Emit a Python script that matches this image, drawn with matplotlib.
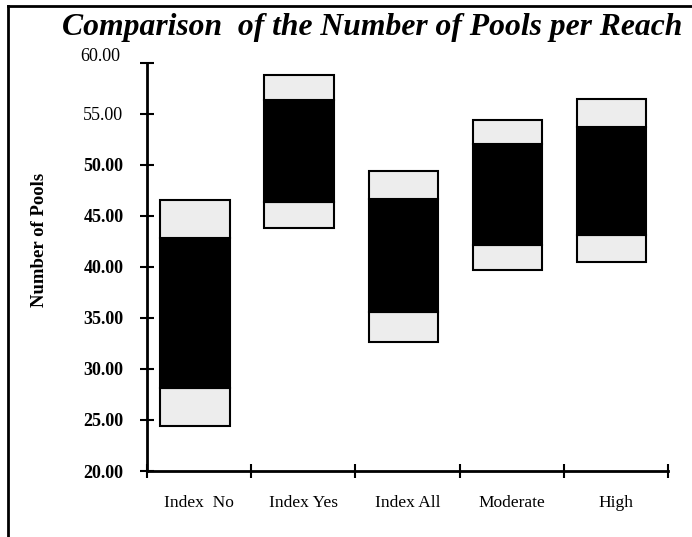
import matplotlib
matplotlib.use("Agg")
import matplotlib.pyplot as plt
from matplotlib.lines import Line2D
import matplotlib.transforms as mtrans

plt.rcParams["font.family"] = "Liberation Serif"

# groups and the four boundaries of each floating bar
groups = ["Index  No", "Index Yes", "Index All", "Moderate", "High"]
low = [24.4, 43.8, 32.6, 39.7, 40.5]       # bottom of lower grey block
q1 = [28.1, 46.4, 35.6, 42.2, 43.1]        # bottom of black block
q3 = [42.8, 56.4, 46.7, 52.1, 53.7]        # top of black block
high = [46.6, 58.8, 49.4, 54.4, 56.5]      # top of upper grey block
yticks = [20, 25, 30, 35, 40, 45, 50, 55, 60]

fig = plt.figure(figsize=(6.92, 5.37), dpi=100)
ax = fig.add_axes([147/692, 1-471/537, (668-147)/692, (471-63)/537])

xs = [i - 0.04 for i in range(len(groups))]
w = 0.665
grey = "#ededed"
for i in range(len(groups)):
    ax.bar(xs[i], q1[i]-low[i], bottom=low[i], width=w, color=grey,
           edgecolor="black", linewidth=1.5, zorder=2)
    ax.bar(xs[i], q3[i]-q1[i], bottom=q1[i], width=w, color="black",
           edgecolor="black", linewidth=1.5, zorder=2)
    ax.bar(xs[i], high[i]-q3[i], bottom=q3[i], width=w, color=grey,
           edgecolor="black", linewidth=1.5, zorder=2)

ax.set_xlim(-0.5, len(groups) - 0.5)
ax.set_ylim(20, 60)
for s in ["top", "right"]:
    ax.spines[s].set_visible(False)
for s in ["left", "bottom"]:
    ax.spines[s].set_linewidth(2)

ax.set_yticks(yticks)
ax.set_yticklabels(["%.2f" % v for v in yticks])
ax.tick_params(axis="y", direction="inout", length=10, width=1.5, pad=12, labelsize=13)
for lab, v in zip(ax.get_yticklabels(), yticks):
    if v < 55:
        lab.set_fontweight("bold")
# the top label sits a bit higher than its tick
top_lab = ax.get_yticklabels()[-1]
top_lab.set_transform(top_lab.get_transform() +
                      mtrans.ScaledTranslation(-2/72, 6/72, fig.dpi_scale_trans))

ax.set_xticks([i - 0.5 for i in range(len(groups) + 1)])
ax.set_xticklabels([])
ax.set_xticks(range(len(groups)), minor=True)
ax.set_xticklabels(groups, minor=True, fontsize=12.5)
ax.tick_params(axis="x", which="major", direction="inout", length=10, width=1.5)
ax.tick_params(axis="x", which="minor", length=0, pad=17)

ax.set_ylabel("Number of Pools", fontsize=13.5, fontweight="bold")
ax.yaxis.set_label_coords(-0.19, 0.566)

fig.text(372/692, 1-28/537, "Comparison  of the Number of Pools per Reach",
         fontsize=22.8, fontweight="bold", fontstyle="italic", ha="center", va="center")

# frame round the figure (left and top edges visible)
fig.add_artist(Line2D([8/692, 8/692], [0, 1-6/537], transform=fig.transFigure,
                      color="black", linewidth=2))
fig.add_artist(Line2D([8/692, 1], [1-6/537, 1-6/537], transform=fig.transFigure,
                      color="black", linewidth=2))

fig.savefig("out.png", dpi=100)
